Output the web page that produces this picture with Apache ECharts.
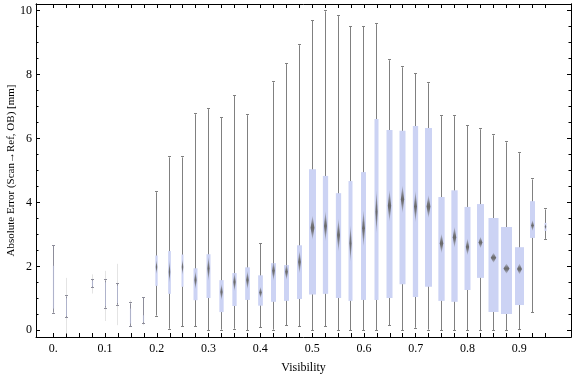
<!DOCTYPE html>
<html>
<head>
<meta charset="utf-8">
<script src="https://cdn.jsdelivr.net/npm/echarts@6/dist/echarts.min.js"></script>
<style>
  html, body { margin: 0; padding: 0; background: #fff; }
  #chart { width: 576px; height: 377px; }
</style>
</head>
<body>
<div id="chart"></div>
<script>
// visibility bins (step 0.025, 0.05 has no data)
var visibility = [0, 0.025, 0.075, 0.1, 0.125, 0.15, 0.175, 0.2, 0.225, 0.25, 0.275, 0.3, 0.325, 0.35, 0.375,
  0.4, 0.425, 0.45, 0.475, 0.5, 0.525, 0.55, 0.575, 0.6, 0.625, 0.65, 0.675, 0.7, 0.725, 0.75, 0.775,
  0.8, 0.825, 0.85, 0.875, 0.9, 0.925, 0.95];
var whiskLow = [0.55, 0.41, 1.34, 0.71, 0.80, 0.12, 0.23, 0.46, 0.05, 0.12, 0.12, 0.0, 0.02, 0.05, 0.0,
  0.09, 0.02, 0.16, 0.12, 0.0, 0.12, 0.0, 0.0, 0.0, 0.0, 0.16, 0.0, 0.08, 0.02, 0.0, 0.0,
  0.0, 0.0, 0.0, 0.0, 0.03, 0.56, 2.86];
var q1 = [0.68, 0.45, 1.37, 0.75, 0.85, 0.21, 0.26, 1.39, 1.14, 1.36, 0.94, 1.01, 0.57, 0.76, 0.95,
  0.77, 0.89, 0.92, 0.98, 1.12, 1.14, 1.01, 0.92, 0.95, 0.95, 1.01, 1.44, 1.04, 1.36, 0.92, 0.89,
  1.26, 1.64, 0.57, 0.51, 0.79, 2.89, 3.11];
var median = [1.5, 0.75, 1.45, 1.15, 1.1, 0.45, 0.35, 1.98, 1.83, 1.98, 1.57, 1.93, 1.2, 1.51, 1.57,
  1.18, 1.86, 1.83, 2.14, 3.21, 3.26, 2.98, 2.72, 3.19, 3.71, 3.90, 4.10, 3.87, 3.87, 2.72, 2.91,
  2.61, 2.75, 2.27, 1.93, 1.92, 3.28, 3.24];
var q3 = [2.02, 1.0, 1.55, 1.5, 1.4, 0.68, 0.47, 2.34, 2.48, 2.37, 1.94, 2.38, 1.57, 1.79, 1.97,
  1.72, 2.10, 2.04, 2.66, 5.04, 4.83, 4.29, 4.67, 4.95, 6.61, 6.27, 6.24, 6.39, 6.33, 4.17, 4.38,
  3.86, 3.95, 3.51, 3.23, 2.60, 4.04, 3.36];
var whiskHigh = [2.64, 1.06, 1.57, 1.56, 1.46, 0.84, 1.01, 4.32, 5.41, 5.41, 6.76, 6.92, 6.64, 7.33, 6.73,
  2.71, 7.76, 8.33, 8.92, 9.68, 9.98, 9.83, 9.49, 9.49, 9.58, 8.45, 8.23, 8.02, 7.73, 6.70, 6.70,
  6.39, 6.29, 6.10, 5.88, 5.54, 4.72, 3.78];
// full spread of the sparse bins (drawn faint)
var rangeLow = [null, -0.1, 1.15, 0.29, 0.16, 0.10, 0.16];
var rangeHigh = [null, 1.64, 1.75, 1.86, 2.08, 0.94, 1.01];
// approx. sample counts per bin (box width / fading)
var counts = [26, 20, 26, 20, 20, 26, 26, 46, 54, 40, 80, 80, 86, 86, 94,
  94, 100, 100, 100, 140, 106, 106, 80, 100, 80, 120, 120, 106, 140, 126, 126,
  120, 140, 200, 220, 180, 100, 40];
// half height of the median confidence diamond
var medianCI = [0.15, 0.1, 0.05, 0.1, 0.1, 0.1, 0.05, 0.23, 0.36, 0.26, 0.29, 0.39, 0.26, 0.29, 0.29,
  0.18, 0.31, 0.26, 0.36, 0.38, 0.47, 0.52, 0.58, 0.58, 0.68, 0.5, 0.44, 0.5, 0.36, 0.31, 0.33,
  0.26, 0.18, 0.16, 0.16, 0.17, 0.17, 0.1];

var xTickLabels = [0, 0.1, 0.2, 0.3, 0.4, 0.5, 0.6, 0.7, 0.8, 0.9];
var yTickLabels = [0, 2, 4, 6, 8, 10];

var xTicks = [];
for (var i = 0; i <= 38; i++) xTicks.push(+(i * 0.025).toFixed(3));
var yMinor = [];
for (var j = 0; j <= 20; j++) { if (j % 4 !== 0) yMinor.push(j * 0.5); }

var data = visibility.map(function (v, i) {
  return [v, whiskLow[i], q1[i], median[i], q3[i], whiskHigh[i], counts[i], medianCI[i],
    rangeLow[i] == null ? NaN : rangeLow[i], rangeHigh[i] == null ? NaN : rangeHigh[i]];
});

var chart = echarts.init(document.getElementById('chart'));
var font = '"Liberation Serif", "DejaVu Serif", serif';

function renderBox(params, api) {
  var x = api.value(0);
  var n = api.value(6);
  var faint = n < 30;
  var px = Math.floor(api.coord([x, 0])[0]) + 0.5;
  var y = function (v) { return api.coord([x, v])[1]; };
  var w = n / 20;
  var children = [];
  var rl = api.value(8), rh = api.value(9);
  if (!isNaN(rl)) {
    children.push({ type: 'line', shape: { x1: px, y1: y(rl), x2: px, y2: y(rh) },
      style: { stroke: '#e4e4e4', lineWidth: 1 } });
  }
  var lo = y(api.value(1)), hi = y(api.value(5));
  var wc = faint ? '#8d8d9a' : '#808080';
  children.push({ type: 'line', shape: { x1: px, y1: lo, x2: px, y2: hi }, style: { stroke: wc, lineWidth: 1 } });
  children.push({ type: 'line', shape: { x1: px - 1.5, y1: Math.round(lo) + 0.5, x2: px + 1.5, y2: Math.round(lo) + 0.5 }, style: { stroke: wc, lineWidth: 1 } });
  children.push({ type: 'line', shape: { x1: px - 1.5, y1: Math.round(hi) - 0.5, x2: px + 1.5, y2: Math.round(hi) - 0.5 }, style: { stroke: wc, lineWidth: 1 } });
  var b3 = y(api.value(4)), b1 = y(api.value(2));
  children.push({ type: 'rect', shape: { x: px - w / 2, y: b3, width: w, height: b1 - b3 },
    style: { fill: '#ccd3f4', opacity: faint ? 0.55 : 1 } });
  if (!faint) {
    var m = api.value(3), ci = api.value(7);
    var ym = y(m), yt = y(m + ci), yb = y(m - ci);
    var dw = Math.max(w * 0.55, 1.5);
    children.push({ type: 'polygon',
      shape: { points: [[px, yt], [px + dw / 2, ym], [px, yb], [px - dw / 2, ym]] },
      style: { fill: new echarts.graphic.LinearGradient(0, 0, 0, 1, [
        { offset: 0, color: 'rgba(105,105,105,0.15)' },
        { offset: 0.35, color: 'rgba(105,105,105,0.85)' },
        { offset: 0.5, color: 'rgba(105,105,105,1)' },
        { offset: 0.65, color: 'rgba(105,105,105,0.85)' },
        { offset: 1, color: 'rgba(105,105,105,0.15)' }
      ]) } });
  }
  return { type: 'group', children: children };
}

var axisLine = { show: true, onZero: false, lineStyle: { color: '#000', width: 1 } };

function xAx(pos, ticks, len, labels) {
  return {
    type: 'value', position: pos, min: -1 / 30, max: 1,
    axisLine: axisLine,
    axisTick: { show: true, inside: true, length: len, customValues: ticks, lineStyle: { color: '#000' } },
    axisLabel: labels ? {
      show: true, customValues: labels, margin: 6, color: '#000', fontFamily: font, fontSize: 12,
      formatter: function (v) { return v === 0 ? '0.' : v.toFixed(1); }
    } : { show: false },
    splitLine: { show: false }
  };
}
function yAx(pos, ticks, len, labels) {
  return {
    type: 'value', position: pos, min: -0.21, max: 10.21,
    axisLine: axisLine,
    axisTick: { show: true, inside: true, length: len, customValues: ticks, lineStyle: { color: '#000' } },
    axisLabel: labels ? {
      show: true, customValues: labels, margin: 4, color: '#000', fontFamily: font, fontSize: 12
    } : { show: false },
    splitLine: { show: false }
  };
}

var xb = xAx('bottom', xTicks, 4, xTickLabels);
xb.name = 'Visibility';
xb.nameLocation = 'middle';
xb.nameGap = 25;
xb.nameMoveOverlap = false;
xb.nameTextStyle = { color: '#000', fontFamily: font, fontSize: 12 };

var yl = yAx('left', yTickLabels, 4, yTickLabels);
yl.name = 'Absolute Error (Scan\u2192Ref, OB) [mm]';
yl.nameLocation = 'middle';
yl.nameGap = 19;
yl.nameMoveOverlap = false;
yl.nameTextStyle = { color: '#000', fontFamily: font, fontSize: 11 };

var option = {
  animation: false,
  backgroundColor: '#fff',
  grid: { left: 36, right: 5, top: 4, bottom: 40, containLabel: false, outerBoundsMode: 'none' },
  xAxis: [xb, xAx('top', xTicks, 4, null)],
  yAxis: [yl, yAx('left', yMinor, 2.5, null), yAx('right', yTickLabels, 4, null), yAx('right', yMinor, 2.5, null)],
  series: [{
    type: 'custom',
    xAxisIndex: 0,
    yAxisIndex: 0,
    renderItem: renderBox,
    encode: { x: 0, y: [1, 5] },
    data: data
  }]
};

chart.setOption(option);
</script>
</body>
</html>
